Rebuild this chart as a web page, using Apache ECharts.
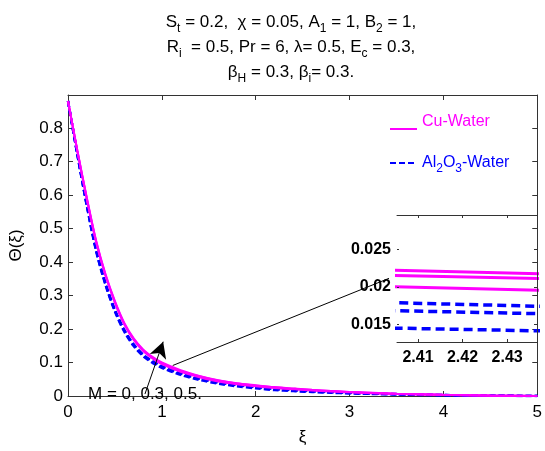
<!DOCTYPE html>
<html>
<head>
<meta charset="utf-8">
<script src="https://cdn.jsdelivr.net/npm/echarts@6/dist/echarts.min.js"></script>
<style>
  html, body { margin: 0; padding: 0; background: #fff; }
  #chart { width: 545px; height: 451px; }
</style>
</head>
<body>
<div id="chart"></div>
<script>
// xi values where the curves were read
const xi = [0, 0.1, 0.2, 0.3, 0.4, 0.5, 0.6, 0.7, 0.8, 0.9, 1.0, 1.2, 1.4, 1.6, 1.8, 2.0, 2.2, 2.4, 2.44, 2.6, 2.8, 3.0, 3.5, 4.0, 4.5, 5.0];

// Cu-Water, M = 0, 0.3, 0.5
const cuM0  = [0.880, 0.730, 0.588, 0.458, 0.358, 0.278, 0.213, 0.167, 0.134, 0.112, 0.095, 0.072, 0.056, 0.043, 0.035, 0.029, 0.0240, 0.0201, 0.01952, 0.0167, 0.0136, 0.0109, 0.0063, 0.0031, 0.0011, 0];
const cuM03 = [0.880, 0.731, 0.590, 0.461, 0.361, 0.281, 0.216, 0.170, 0.137, 0.115, 0.098, 0.075, 0.059, 0.046, 0.037, 0.031, 0.0258, 0.0216, 0.0211, 0.0180, 0.0146, 0.0117, 0.0068, 0.0034, 0.0012, 0];
const cuM05 = [0.880, 0.732, 0.592, 0.463, 0.363, 0.283, 0.218, 0.172, 0.139, 0.117, 0.100, 0.077, 0.060, 0.047, 0.038, 0.032, 0.0265, 0.02231, 0.02175, 0.0185, 0.0150, 0.0120, 0.0070, 0.0035, 0.0012, 0];

// Al2O3-Water, M = 0, 0.3, 0.5
const alM0  = [0.880, 0.720, 0.568, 0.432, 0.331, 0.252, 0.192, 0.149, 0.119, 0.099, 0.084, 0.063, 0.048, 0.037, 0.029, 0.023, 0.0178, 0.01456, 0.01411, 0.0120, 0.0097, 0.0078, 0.0046, 0.0023, 0.0008, 0];
const alM03 = [0.880, 0.721, 0.570, 0.435, 0.334, 0.255, 0.195, 0.152, 0.122, 0.102, 0.087, 0.066, 0.051, 0.040, 0.032, 0.026, 0.0205, 0.0169, 0.0164, 0.0140, 0.0113, 0.0091, 0.0054, 0.0027, 0.0009, 0];
const alM05 = [0.880, 0.722, 0.572, 0.437, 0.336, 0.257, 0.197, 0.154, 0.124, 0.104, 0.089, 0.068, 0.052, 0.041, 0.033, 0.027, 0.0217, 0.01797, 0.01739, 0.0148, 0.0120, 0.0097, 0.0057, 0.0029, 0.0010, 0];

// tick labels
const xTicks = [0, 1, 2, 3, 4, 5];
const yTicks = [0, 0.1, 0.2, 0.3, 0.4, 0.5, 0.6, 0.7, 0.8];
const insetXTicks = [2.41, 2.42, 2.43];
const insetYTicks = [0.015, 0.02, 0.025];

const FONT = "'Liberation Sans', Arial, sans-serif";
const MAGENTA = "#ff00ff";
const BLUE = "#0000ff";
const AXIS = "#333";

function pairs(ys) {
  return xi.map((x, i) => [x, ys[i]]);
}

const chart = echarts.init(document.getElementById("chart"));

function mainAxis(extra) {
  return Object.assign({
    type: "value",
    gridIndex: 0,
    splitLine: { show: false },
    axisLine: { show: true, onZero: false, lineStyle: { color: AXIS, width: 1 } },
  }, extra);
}

function insetAxis(extra) {
  return Object.assign({
    type: "value",
    gridIndex: 1,
    z: 5,
    splitLine: { show: false },
    axisLine: { show: true, onZero: false, lineStyle: { color: AXIS, width: 1 } },
  }, extra);
}

function ticks(values, len) {
  return { show: true, inside: true, length: len, lineStyle: { color: AXIS }, customValues: values };
}

const cuSeries = [cuM0, cuM03, cuM05];
const alSeries = [alM0, alM03, alM05];

const series = [];
// main plot
alSeries.forEach((ys) => {
  series.push({
    name: "Al2O3-Water",
    type: "line",
    xAxisIndex: 0,
    yAxisIndex: 0,
    data: pairs(ys),
    symbol: "none",
    smooth: 0.3,
    lineStyle: { color: BLUE, width: 2.5, type: [6, 3] },
    itemStyle: { color: BLUE },
    z: 2,
  });
});
cuSeries.forEach((ys) => {
  series.push({
    name: "Cu-Water",
    type: "line",
    xAxisIndex: 0,
    yAxisIndex: 0,
    data: pairs(ys),
    symbol: "none",
    smooth: 0.3,
    lineStyle: { color: MAGENTA, width: 2 },
    itemStyle: { color: MAGENTA },
    z: 3,
  });
});
// inset (zoom of the same data)
alSeries.forEach((ys) => {
  series.push({
    name: "al-inset",
    type: "line",
    xAxisIndex: 2,
    yAxisIndex: 2,
    data: pairs(ys),
    symbol: "none",
    lineStyle: { color: BLUE, width: 3.5, type: [9, 5] },
    z: 4,
  });
});
cuSeries.forEach((ys) => {
  series.push({
    name: "cu-inset",
    type: "line",
    xAxisIndex: 2,
    yAxisIndex: 2,
    data: pairs(ys),
    symbol: "none",
    lineStyle: { color: MAGENTA, width: 3 },
    z: 4,
  });
});

// annotation lines (arrow for M and pointer to inset)
series.push({
  name: "annot",
  type: "line",
  xAxisIndex: 0,
  yAxisIndex: 0,
  data: [],
  markLine: {
    silent: true,
    animation: false,
    label: { show: false },
    lineStyle: { color: "#000", width: 1, type: "solid" },
    data: [
      [
        { coord: [0.82, 0.006], symbol: "none" },
        { coord: [1.014, 0.162], symbol: "arrow", symbolSize: [13, 16] },
      ],
      [
        { coord: [1.116, 0.091], symbol: "none" },
        { coord: [3.42, 0.351], symbol: "none" },
      ],
    ],
  },
});

const subRich = {
  n: { fontSize: 17, lineHeight: 25, fontFamily: FONT, color: "#000" },
  s: { fontSize: 12, lineHeight: 12, padding: [13, 0, 0, 0], fontFamily: FONT, color: "#000" },
};

const option = {
  animation: false,
  backgroundColor: "#fff",
  grid: [
    { left: 67, top: 95, width: 475, height: 307 },
    { left: 397, top: 215, width: 140, height: 127 },
  ],
  xAxis: [
    mainAxis({
      position: "bottom", min: 0, max: 5,
      name: "ξ", nameLocation: "middle", nameGap: 33,
      nameTextStyle: { fontSize: 17, fontFamily: FONT, color: "#000" },
      axisTick: ticks(xTicks, 5),
      axisLabel: { customValues: xTicks, fontSize: 17, fontFamily: FONT, color: "#000", margin: 8 },
    }),
    mainAxis({
      position: "top", min: 0, max: 5,
      axisTick: ticks(xTicks, 5),
      axisLabel: { show: false },
    }),
    insetAxis({
      position: "bottom", min: 2.4053, max: 2.4367,
      axisTick: ticks(insetXTicks, 3),
      axisLabel: { customValues: insetXTicks, fontSize: 16, fontWeight: "bold", fontFamily: FONT, color: "#000", margin: 8 },
    }),
    insetAxis({
      position: "top", min: 2.4053, max: 2.4367,
      axisTick: ticks(insetXTicks, 3),
      axisLabel: { show: false },
    }),
  ],
  yAxis: [
    mainAxis({
      position: "left", min: 0, max: 0.898,
      name: "Θ(ξ)", nameLocation: "middle", nameGap: 43,
      nameTextStyle: { fontSize: 17, fontFamily: FONT, color: "#000" },
      axisTick: ticks(yTicks, 5),
      axisLabel: { customValues: yTicks, fontSize: 17, fontFamily: FONT, color: "#000", margin: 5 },
    }),
    mainAxis({
      position: "right", min: 0, max: 0.898,
      axisTick: ticks(yTicks, 5),
      axisLabel: { show: false },
    }),
    insetAxis({
      position: "left", min: 0.01265, max: 0.02964,
      axisLine: { show: false },
      axisTick: ticks(insetYTicks, 2),
      axisLabel: { customValues: insetYTicks, fontSize: 16, fontWeight: "bold", fontFamily: FONT, color: "#000", margin: 6 },
    }),
    insetAxis({
      position: "right", min: 0.01265, max: 0.02964,
      axisTick: ticks(insetYTicks, 3),
      axisLabel: { show: false },
    }),
  ],
  legend: {
    orient: "vertical",
    left: 384,
    top: 109,
    itemWidth: 27,
    itemHeight: 14,
    itemGap: 9,
    selectedMode: false,
    itemStyle: { opacity: 0 },
    data: [
      { name: "Cu-Water", textStyle: { color: MAGENTA } },
      { name: "Al2O3-Water", textStyle: { color: BLUE } },
    ],
    formatter: function (name) {
      if (name === "Cu-Water") return "{up|Cu-Water}\n{sp| }";
      return "{n|Al}{s|2}{n|O}{s|3}{n|-Water}";
    },
    textStyle: {
      fontSize: 16,
      fontFamily: FONT,
      rich: {
        up: { fontSize: 16, lineHeight: 18, fontFamily: FONT, color: MAGENTA },
        sp: { fontSize: 8, lineHeight: 14 },
        n: { fontSize: 16, lineHeight: 22, fontFamily: FONT, color: BLUE },
        s: { fontSize: 12, lineHeight: 12, padding: [12, 0, 0, 0], fontFamily: FONT, color: BLUE },
      },
    },
  },
  graphic: [
    {
      type: "text",
      z: 10,
      style: {
        x: 291,
        y: 10,
        align: "center",
        verticalAlign: "top",
        text:
          "{n|S}{s|t}{n| = 0.2,  χ = 0.05, A}{s|1}{n| = 1, B}{s|2}{n| = 1,}\n" +
          "{n|R}{s|i}{n|  = 0.5, Pr = 6, λ= 0.5, E}{s|c}{n| = 0.3,}\n" +
          "{n|β}{s|H}{n| = 0.3, β}{s|i}{n|= 0.3.}",
        rich: subRich,
      },
    },
    {
      type: "text",
      z: 10,
      style: {
        x: 88,
        y: 394,
        verticalAlign: "middle",
        text: "M = 0, 0.3, 0.5.",
        fontSize: 17,
        fontFamily: FONT,
        fill: "#000",
      },
    },
  ],
  series: series,
};

chart.setOption(option);
</script>
</body>
</html>
